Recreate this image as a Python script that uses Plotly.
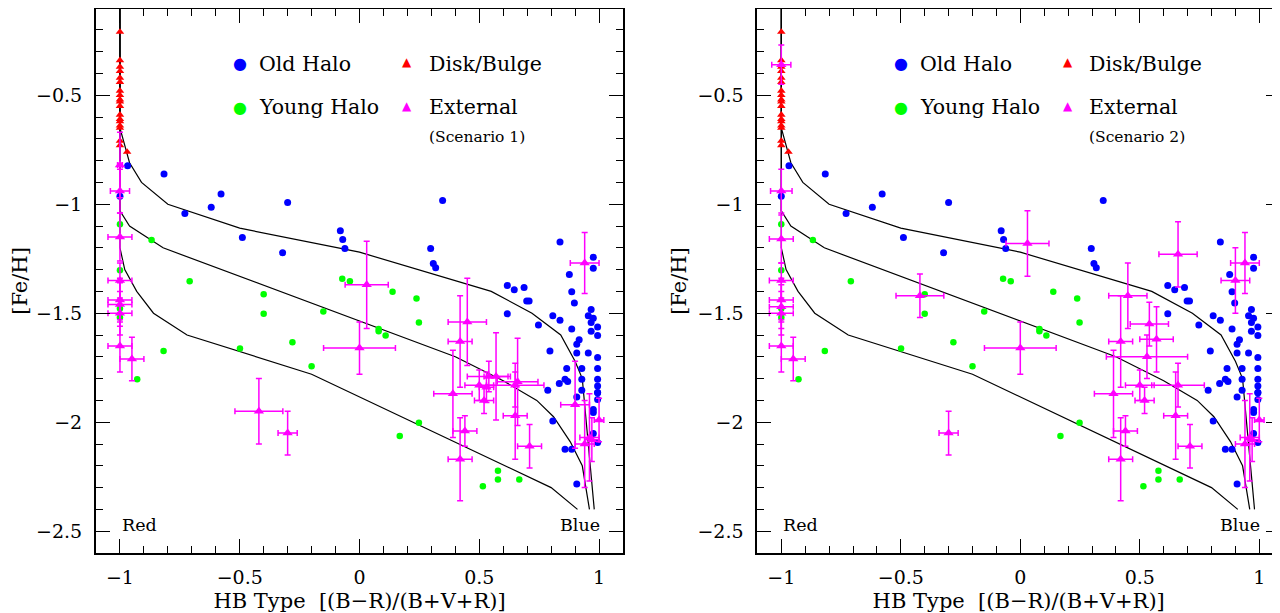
import plotly.graph_objects as go

# ---------------- data ----------------
# Model loci (three curves), [Fe/H] vs HB type
curve_top_x = [-1.0, -1.0, -0.96, -0.91, -0.80, -0.50, 0.00, 0.55, 0.72, 0.84, 0.90, 0.93, 0.98]
curve_top_y = [-0.10, -0.65, -0.81, -0.90, -1.00, -1.11, -1.22, -1.40, -1.50, -1.60, -1.72, -1.80, -2.40]
curve_mid_x = [-1.0, -1.0, -0.96, -0.82, 0.40, 0.60, 0.74, 0.81, 0.88, 0.93, 0.96]
curve_mid_y = [-0.10, -1.03, -1.10, -1.20, -1.70, -1.81, -1.90, -1.975, -2.09, -2.20, -2.40]
curve_bot_x = [-1.0, -1.0, -0.98, -0.93, -0.86, -0.72, -0.20, 0.80, 0.91]
curve_bot_y = [-0.10, -1.20, -1.30, -1.40, -1.50, -1.60, -1.78, -2.30, -2.40]

# Old Halo (blue)
old_x = [-0.968, -0.816, -1.0, -0.729, -0.619, -0.578, -0.30, 0.347, -0.489, -0.321, -0.080, -0.070,
         -0.061, 0.297, 0.308, 0.318, 0.837, 0.617, 0.646, 0.687, 0.698, 0.708, 0.617, 0.747, 0.807,
         0.837, 0.876, 0.886, 0.897, 0.886, 0.976, 0.976, 0.967, 0.955, 0.976, 0.967, 0.967, 0.994,
         0.994, 0.917, 0.907, 0.795, 0.907, 0.955, 0.994, 0.865, 0.928, 0.994, 0.858, 0.869, 0.834,
         0.928, 0.994, 0.994, 0.928, 0.786, 0.994, 0.907, 0.994, 0.994, 0.976, 0.976, 0.807, 0.976,
         0.994, 0.858, 0.886, 0.907]
old_y = [-0.824, -0.862, -0.963, -1.043, -1.014, -0.953, -0.992, -0.983, -1.153, -1.223, -1.122, -1.162,
         -1.203, -1.203, -1.272, -1.292, -1.173, -1.373, -1.393, -1.382, -1.444, -1.444, -1.503, -1.554, -1.512,
         -1.532, -1.322, -1.402, -1.453, -1.573, -1.243, -1.294, -1.483, -1.512, -1.523, -1.543, -1.583, -1.563,
         -1.602, -1.622, -1.642, -1.673, -1.683, -1.683, -1.703, -1.754, -1.754, -1.754, -1.803, -1.813, -1.822,
         -1.803, -1.803, -1.834, -1.853, -1.853, -1.864, -1.884, -1.896, -1.865, -1.942, -1.956, -1.994, -2.052,
         -2.093, -2.124, -2.124, -2.284]

# Young Halo (green)
young_x = [-1.0, -0.868, -1.0, -0.709, -1.0, -1.0, -0.400, -0.400, -0.818, -0.928, -0.499, -0.280,
           -0.200, -0.151, -0.072, -0.040, 0.080, 0.080, 0.109, 0.138, 0.238, 0.248, 0.168, 0.248,
           0.578, 0.578, 0.515, 0.667]
young_y = [-1.092, -1.164, -1.303, -1.353, -1.478, -1.520, -1.413, -1.503, -1.673, -1.803, -1.662, -1.633,
           -1.743, -1.492, -1.342, -1.353, -1.572, -1.583, -1.602, -1.402, -1.433, -1.543, -2.063, -2.003,
           -2.223, -2.263, -2.294, -2.263]

# Disk/Bulge (red)
disk_x = [-1.0] * 18 + [-0.97]
disk_y = [-0.21, -0.34, -0.37, -0.39, -0.42, -0.44, -0.48, -0.50, -0.52, -0.53, -0.55, -0.59,
          -0.61, -0.62, -0.64, -0.65, -0.71, -0.73, -0.76]

# External, Scenario 1 (x, y, x error, y error)
ext1_x = [-1.0, -1.0, -1.0, -1.0, -1.0, -1.0, -1.0, -1.0, -0.95, -0.42, -0.30, 0.00, 0.03, 0.94,
          0.45, 0.42, 0.54, 0.57, 0.50, 0.53, 0.66, 0.65, 0.39, 0.52, 0.65, 0.44, 0.42, 0.71, 0.90,
          0.94, 0.96, 0.97, 1.00]
ext1_y = [-0.82, -0.94, -1.15, -1.35, -1.44, -1.46, -1.50, -1.65, -1.71, -1.95, -2.05, -1.66, -1.37, -1.27,
          -1.54, -1.63, -1.79, -1.79, -1.83, -1.84, -1.815, -1.83, -1.87, -1.90, -1.97, -2.04, -2.17, -2.11, -1.92,
          -2.10, -2.07, -2.08, -1.99]
ext1_ex = [0.01, 0.04, 0.05, 0.05, 0.05, 0.05, 0.05, 0.05, 0.05, 0.10, 0.04, 0.15, 0.09, 0.06,
           0.08, 0.05, 0.09, 0.05, 0.06, 0.03, 0.085, 0.12, 0.08, 0.04, 0.05, 0.05, 0.05, 0.05, 0.06,
           0.04, 0.04, 0.03, 0.02]
ext1_ey = [0.15, 0.10, 0.11, 0.08, 0.10, 0.10, 0.10, 0.12, 0.10, 0.15, 0.10, 0.12, 0.20, 0.14,
           0.20, 0.21, 0.07, 0.20, 0.07, 0.07, 0.20, 0.10, 0.20, 0.06, 0.20, 0.07, 0.19, 0.10, 0.20,
           0.20, 0.20, 0.10, 0.10]

# External, Scenario 2
ext2_x = [-1.0, -1.0, -1.0, -1.0, -1.0, -1.0, -1.0, -1.0, -0.95, -0.42, -0.30, 0.00, 0.03, 0.66,
          0.94, 0.90, 0.45, 0.54, 0.57, 0.42, 0.53, 0.39, 0.50, 0.66, 0.52, 0.65, 0.44, 0.42, 0.71,
          0.94, 0.96, 0.97, 1.00]
ext2_y = [-0.36, -0.94, -1.16, -1.35, -1.44, -1.47, -1.50, -1.65, -1.71, -1.42, -2.05, -1.66, -1.18, -1.23,
          -1.27, -1.35, -1.42, -1.55, -1.62, -1.63, -1.70, -1.87, -1.83, -1.83, -1.90, -1.97, -2.04, -2.17, -2.11,
          -2.10, -2.07, -2.08, -1.99]
ext2_ex = [0.04, 0.045, 0.05, 0.05, 0.05, 0.05, 0.05, 0.05, 0.05, 0.10, 0.04, 0.15, 0.09, 0.08,
           0.06, 0.06, 0.08, 0.08, 0.07, 0.05, 0.17, 0.08, 0.06, 0.11, 0.04, 0.05, 0.05, 0.05, 0.05,
           0.04, 0.04, 0.03, 0.02]
ext2_ey = [0.09, 0.10, 0.11, 0.08, 0.10, 0.10, 0.10, 0.12, 0.10, 0.10, 0.10, 0.12, 0.15, 0.15,
           0.14, 0.15, 0.15, 0.10, 0.15, 0.21, 0.10, 0.20, 0.07, 0.10, 0.06, 0.20, 0.07, 0.19, 0.10,
           0.20, 0.20, 0.10, 0.10]

legend_labels = ["Old Halo", "Young Halo", "Disk/Bulge", "External"]
scenario_labels = ["(Scenario 1)", "(Scenario 2)"]
x_ticks = [-1, -0.5, 0, 0.5, 1]
y_ticks = [-2.5, -2, -1.5, -1, -0.5]

# ---------------- figure ----------------
# page body has an 8px margin, so the figure is 8px smaller than the window on each axis
W, H = 1272, 605
FONT = "DejaVu Serif"
BLUE, GREEN, RED, MAG = "#0000ff", "#00ff00", "#ff0000", "#ff00ff"

fig = go.Figure()

panels = [("x", "y", ext1_x, ext1_y, ext1_ex, ext1_ey, scenario_labels[0]),
          ("x2", "y2", ext2_x, ext2_y, ext2_ex, ext2_ey, scenario_labels[1])]

for xa, ya, ex, ey, eex, eey, scen in panels:
    for cx, cy in [(curve_top_x, curve_top_y), (curve_mid_x, curve_mid_y), (curve_bot_x, curve_bot_y)]:
        fig.add_trace(go.Scatter(x=cx, y=cy, mode="lines", line=dict(color="black", width=1.2),
                                 xaxis=xa, yaxis=ya, showlegend=False, hoverinfo="skip"))
    fig.add_trace(go.Scatter(x=old_x, y=old_y, mode="markers", xaxis=xa, yaxis=ya, showlegend=False,
                             marker=dict(color=BLUE, size=7, symbol="circle")))
    fig.add_trace(go.Scatter(x=young_x, y=young_y, mode="markers", xaxis=xa, yaxis=ya, showlegend=False,
                             marker=dict(color=GREEN, size=6.5, symbol="circle")))
    fig.add_trace(go.Scatter(x=disk_x, y=disk_y, mode="markers", xaxis=xa, yaxis=ya, showlegend=False,
                             marker=dict(color=RED, size=7.5, symbol="triangle-up")))
    fig.add_trace(go.Scatter(x=ex, y=ey, mode="markers", xaxis=xa, yaxis=ya, showlegend=False,
                             marker=dict(color=MAG, size=9, symbol="triangle-up"),
                             error_x=dict(type="data", array=eex, color=MAG, thickness=1.5, width=3),
                             error_y=dict(type="data", array=eey, color=MAG, thickness=1.5, width=3)))

    # legend-like labels inside the panel
    lab = dict(xref=xa, yref=ya, showarrow=False, xanchor="left", yanchor="middle",
               font=dict(family=FONT, size=20.5, color="black"))
    fig.add_annotation(x=-0.43, y=-0.355, text=legend_labels[0], **lab)
    fig.add_annotation(x=-0.43, y=-0.555, text=legend_labels[1], **lab)
    fig.add_annotation(x=0.28, y=-0.355, text=legend_labels[2], **lab)
    fig.add_annotation(x=0.28, y=-0.555, text=legend_labels[3], **lab)
    fig.add_annotation(x=0.28, y=-0.69, text=scen, xref=xa, yref=ya, showarrow=False,
                       xanchor="left", yanchor="middle", font=dict(family=FONT, size=15.5, color="black"))
    key = dict(xref=xa, yref=ya, showarrow=False, xanchor="center", yanchor="middle")
    fig.add_annotation(x=-0.5, y=-0.355, text="●", font=dict(family="DejaVu Sans", size=16, color=BLUE), **key)
    fig.add_annotation(x=-0.5, y=-0.555, text="●", font=dict(family="DejaVu Sans", size=16, color=GREEN), **key)
    fig.add_annotation(x=0.2, y=-0.35, text="▲", font=dict(family="DejaVu Sans", size=12, color=RED), **key)
    fig.add_annotation(x=0.2, y=-0.55, text="▲", font=dict(family="DejaVu Sans", size=12, color=MAG), **key)
    fig.add_annotation(x=-1.0, y=-2.47, text="Red", xref=xa, yref=ya, showarrow=False, xanchor="left",
                       yanchor="middle", font=dict(family=FONT, size=17.5, color="black"))
    fig.add_annotation(x=1.012, y=-2.47, text="Blue", xref=xa, yref=ya, showarrow=False, xanchor="right",
                       yanchor="middle", font=dict(family=FONT, size=17.5, color="black"))

# plot area: window px (8..553) -> figure px (1..545)
ydom = [(H - 545) / H, (H - 1) / H]
yrange = [-2.6, -2.6 + 544 / 218]

def xax(domain, rng):
    return dict(domain=domain, range=rng, showline=True, linecolor="black", linewidth=2, mirror="ticks",
                ticks="inside", ticklen=14, tickwidth=1.3, tickcolor="black", automargin=False,
                tickmode="array", tickvals=x_ticks, ticklabelstandoff=6,
                minor=dict(dtick=0.1, tick0=0, ticks="inside", ticklen=7, tickwidth=1.1, tickcolor="black"),
                showgrid=False, zeroline=False,
                tickfont=dict(family=FONT, size=19, color="black"),
                title=dict(text="HB Type  [(B−R)/(B+V+R)]", font=dict(family=FONT, size=21, color="black"),
                           standoff=9))

def yax(domain, anchor):
    return dict(domain=domain, range=yrange, anchor=anchor, showline=True, linecolor="black",
                linewidth=2, mirror="ticks", ticks="inside", ticklen=14, tickwidth=1.3, tickcolor="black",
                tickmode="array", tickvals=y_ticks, automargin=False,
                minor=dict(dtick=0.1, tick0=0, ticks="inside", ticklen=7, tickwidth=1.1, tickcolor="black"),
                showgrid=False, zeroline=False, ticklabelstandoff=8,
                tickfont=dict(family=FONT, size=19, color="black"),
                title=dict(text="[Fe/H]", font=dict(family=FONT, size=21, color="black"), standoff=5))

fig.update_layout(
    width=W, height=H, margin=dict(l=0, r=0, t=0, b=0, autoexpand=False),
    paper_bgcolor="white", plot_bgcolor="white", showlegend=False,
    xaxis=dict(xax([88 / W, 615 / W], [-1.1, 1.1]), anchor="y"),
    yaxis=yax(ydom, "x"),
    xaxis2=dict(xax([749.4 / W, 1.0], [-1.1, 1.0866]), anchor="y2"),
    yaxis2=yax(ydom, "x2"),
)

fig.write_html("out.html")
